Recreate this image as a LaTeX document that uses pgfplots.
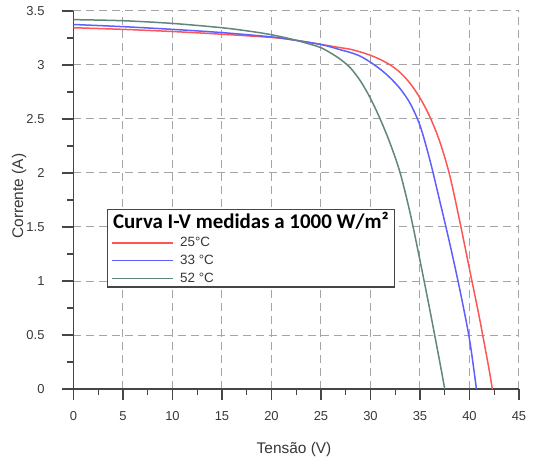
\documentclass[border=0pt]{standalone}
\usepackage{pgfplots}
\pgfplotsset{compat=1.18}
\usepackage{fontspec}
\setmainfont{Liberation Sans}
\newfontfamily\carlito{Carlito}
\definecolor{cRed}{RGB}{255,85,85}
\definecolor{cBlue}{RGB}{95,95,255}
\definecolor{cGreen}{RGB}{95,135,125}
\definecolor{axgray}{RGB}{70,70,70}
\definecolor{gridgray}{RGB}{165,165,165}
\definecolor{txt}{RGB}{55,55,60}
\begin{document}
\begin{tikzpicture}
\path[use as bounding box] (-73.5bp,-70bp) rectangle (464.5bp,389bp);
\begin{axis}[
  at={(0,0)}, anchor=south west,
  width=445.5bp, height=378bp, scale only axis,
  xmin=0, xmax=45, ymin=0, ymax=3.5,
  axis x line*=bottom, axis y line*=left,
  xtick={0,5,...,45}, ytick={0,0.5,...,3.5},
  minor x tick num=1, minor y tick num=1,
  tick align=outside,
  major tick length=11bp, minor tick length=6bp,
  grid=major,
  major grid style={gridgray, dash pattern=on 8bp off 5bp, line width=1bp},
  axis line style={axgray, line width=1.5bp},
  every tick/.style={axgray, line width=1.3bp},
  tick label style={font=\fontsize{13}{15}\selectfont, text=txt},
  xticklabel style={yshift=-8bp},
  yticklabel style={xshift=-14.5bp},
  /pgf/number format/assume math mode=true,
  xlabel={Tensão (V)}, ylabel={Corrente (A)},
  every axis x label/.style={at={(axis description cs:0.495,-0.161)}, anchor=center},
  every axis y label/.style={at={(axis description cs:-0.1223,0.51)}, rotate=90, anchor=center},
  label style={font=\fontsize{15.5}{17}\selectfont, text=txt},
  legend style={at={(axis cs:3.38,1.667)}, anchor=north west, draw=axgray, line width=1.4bp,
    fill=white, font=\fontsize{13.5}{15}\selectfont, text=txt, inner xsep=4bp, inner ysep=1bp,
    row sep=3bp, /tikz/every odd column/.append style={column sep=4bp}},
  legend cell align=left,
  legend image code/.code={\draw[#1, line width=1.5bp] (0bp,0bp) -- (61bp,0bp);},
]
\addlegendimage{empty legend}
\addlegendentry{\hspace*{-67bp}{\carlito\bfseries\fontsize{21}{22}\selectfont\color{black} Curva I-V medidas a 1000 W/m²}}
\addplot[cRed, line width=1.5bp, smooth] coordinates {
(0,3.345)(5,3.33)(10,3.31)(15,3.285)(20,3.255)(22,3.235)(25,3.19)(26,3.175)(27,3.16)(28,3.145)
(29,3.12)(30,3.09)(31,3.05)(32,3.0)(33,2.93)(34,2.83)(35,2.695)(36,2.52)(37,2.29)(38,1.98)
(39,1.56)(40,1.11)(41,0.66)(42,0.17)(42.3,0)};
\addlegendentry{25°C}
\addplot[cBlue, line width=1.5bp, smooth] coordinates {
(0,3.375)(5,3.355)(10,3.33)(15,3.30)(20,3.26)(22,3.235)(25,3.19)(27,3.14)(28,3.115)(29,3.08)
(30,3.025)(31,2.96)(32,2.88)(33,2.78)(34,2.645)(35,2.44)(36,2.12)(37,1.74)(38,1.35)(39,0.93)
(40,0.46)(40.7,0)};
\addlegendentry{33 °C}
\addplot[cGreen, line width=1.5bp, smooth] coordinates {
(0,3.42)(5,3.41)(10,3.385)(15,3.345)(18,3.31)(20,3.28)(22,3.24)(24,3.19)(25,3.16)(26,3.11)
(27,3.05)(28,2.97)(29,2.85)(30,2.69)(31,2.495)(32,2.27)(33,2.0)(34,1.63)(35,1.19)(36,0.73)
(37,0.25)(37.5,0)};
\addlegendentry{52 °C}
\end{axis}
\end{tikzpicture}
\end{document}
